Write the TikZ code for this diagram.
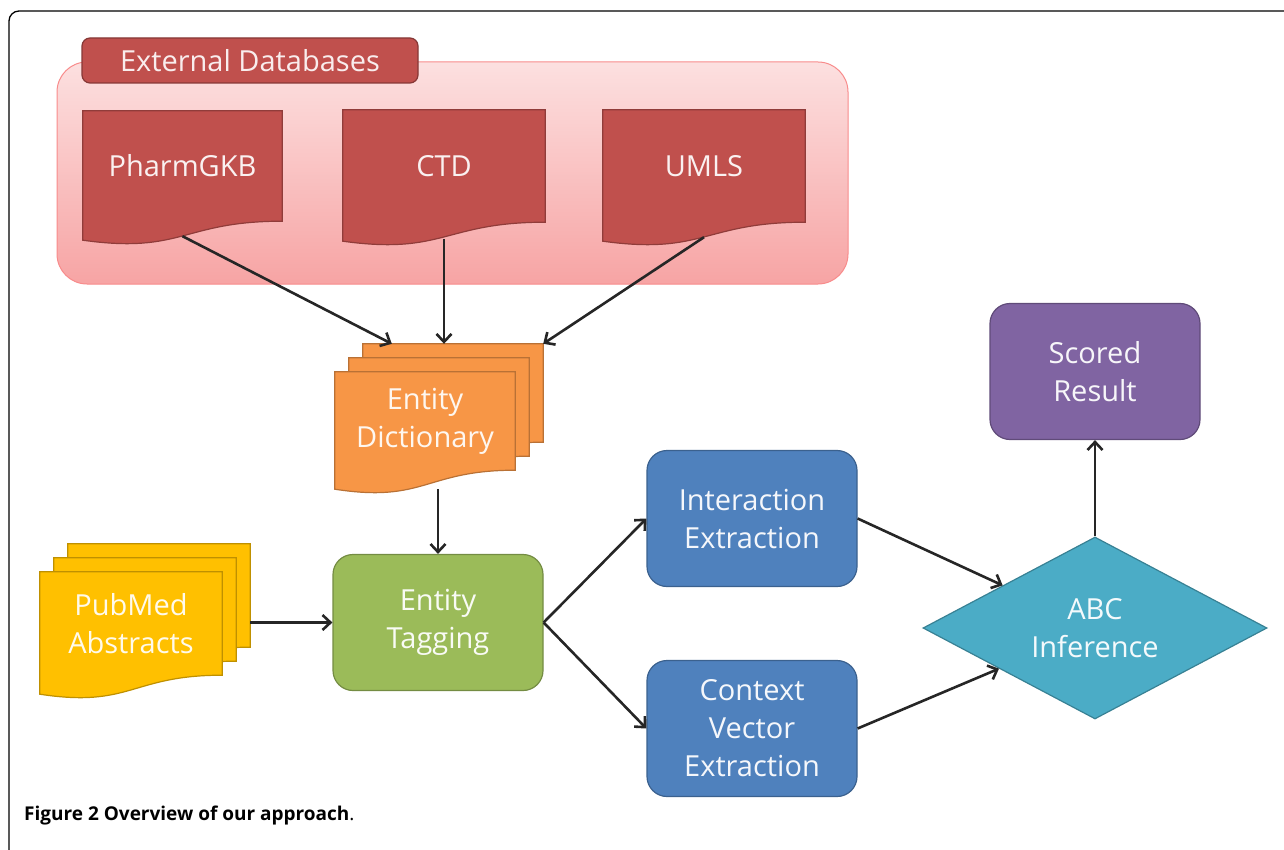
\documentclass[tikz,border=0pt]{standalone}
\usepackage{fontspec}
\setmainfont{Open Sans}
\usetikzlibrary{arrows.meta, shapes.geometric, backgrounds, calc}

\definecolor{dbred}{HTML}{C0504D}
\definecolor{dictorange}{HTML}{F79646}
\definecolor{pubgold}{HTML}{FFC000}
\definecolor{taggreen}{HTML}{9BBB59}
\definecolor{exblue}{HTML}{4F81BD}
\definecolor{abcteal}{HTML}{4BACC6}
\definecolor{scorepurple}{HTML}{8064A2}
\definecolor{pinktop}{HTML}{FCE0E0}
\definecolor{pinkbot}{HTML}{F7A4A4}

\newcommand\boxfont{\fontsize{29}{38}\selectfont}
% one sheet of a document shape, drawn round the node #1, moved right and up by #2
\newcommand\docsheet[3]{%
  \path[docshape=#3] ([shift={(#2,-#2)}]#1.north west) -- ([shift={(#2,-#2)}]#1.north east)
    -- ([shift={(#2,-#2)}]#1.south east)
    .. controls ([shift={(#2,-#2)}]#1.south) and ([shift={(#2,-#2+33)}]#1.south)
    .. ([shift={(#2,-#2+19)}]#1.south west) -- cycle;}

\tikzset{
  box/.style={rounded corners=20pt, draw=#1!75!black, fill=#1, text=white!94!#1,
    line width=1.2pt, minimum width=210pt, minimum height=136pt, align=center, font=\boxfont},
  doc/.style={align=center, text=white!92!#1, font=\boxfont, inner sep=0pt},
  docshape/.style={fill=#1, draw=#1!75!black, line width=1.2pt},
  link/.style={line width=2.6pt, black!85, -{Straight Barb[length=8pt,width=15pt,line width=2.6pt]}},
}

\begin{document}
\begin{tikzpicture}[x=1pt, y=-1pt]
\useasboundingbox (0,0) rectangle (1284,850);
% page frame
\draw[line width=1.3pt, rounded corners=10pt] (9,850) -- (9,11) -- (1284,11);

% external databases
\node[doc=dbred, minimum width=199pt, minimum height=110pt] (pharm) at (182.5,166) {PharmGKB};
\node[doc=dbred, minimum width=202pt, minimum height=112pt] (ctd) at (444,166) {CTD};
\node[doc=dbred, minimum width=202pt, minimum height=112pt] (umls) at (704,166) {UMLS};
\node[rounded corners=8pt, fill=dbred, draw=dbred!70!black, line width=1.2pt,
  text=white!90!dbred, font=\boxfont, minimum width=336pt, minimum height=45pt]
  (dbtitle) at (250,60.5) {External Databases};

% stacked documents
\node[doc=dictorange, minimum width=180pt, minimum height=98pt] (dict) at (425,421) {Entity\\Dictionary};
\node[doc=pubgold, minimum width=182pt, minimum height=103pt] (pubmed) at (131,623.5) {PubMed\\Abstracts};

% process boxes
\node[box=taggreen] (tagging) at (438,622.5) {Entity\\Tagging};
\node[box=exblue] (interact) at (752,518.5) {Interaction\\Extraction};
\node[box=exblue] (context) at (752,728.5) {Context\\Vector\\Extraction};
\node[diamond, aspect=1.9, draw=abcteal!75!black, fill=abcteal, line width=1.2pt,
  text=white!94!abcteal, font=\boxfont, align=center, inner sep=0pt,
  minimum width=344pt, minimum height=182pt] (abc) at (1095,628) {ABC\\Inference};
\node[box=scorepurple] (scored) at (1095,371.5) {Scored\\Result};

% shapes behind the texts
\begin{scope}[on background layer]
\draw[rounded corners=30pt, top color=pinktop, bottom color=pinkbot, draw=pinkbot!85!red,
  line width=1pt] (57,62) rectangle (848,284);
\docsheet{pharm}{0}{dbred}
\docsheet{ctd}{0}{dbred}
\docsheet{umls}{0}{dbred}
\docsheet{dict}{28}{dictorange}
\docsheet{dict}{14}{dictorange}
\docsheet{dict}{0}{dictorange}
\docsheet{pubmed}{28}{pubgold}
\docsheet{pubmed}{14}{pubgold}
\docsheet{pubmed}{0}{pubgold}
\end{scope}

% connectors
\coordinate (dictback) at ([shift={(28,-28)}]dict.north west);
\draw[link] ([shift={(0,15)}]pharm.south) -- ([shift={(29,0)}]dictback);
\draw[link] ([shift={(0,17)}]ctd.south) -- (ctd.south |- dictback);
\draw[link] ([shift={(0,15)}]umls.south) -- ([shift={(28,-28)}]dict.north east);
\draw[link] ([shift={(0,19)}]tagging.north |- dict.south) -- (tagging.north);
\draw[link] ([shift={(28,0)}]pubmed.east |- tagging.west) -- (tagging.west);
\draw[link] (tagging.east) -- (interact.west);
\draw[link] (tagging.east) -- (context.west);
\draw[link] (interact.east) -- (abc);
\draw[link] (context.east) -- (abc);
\draw[link] (abc.north) -- (scored.south);

% caption
\node[anchor=base west, font=\fontsize{19}{22}\selectfont, inner sep=0pt] (caption) at (24,820)
  {\textbf{Figure 2 Overview of our approach}.};
\end{tikzpicture}
\end{document}
